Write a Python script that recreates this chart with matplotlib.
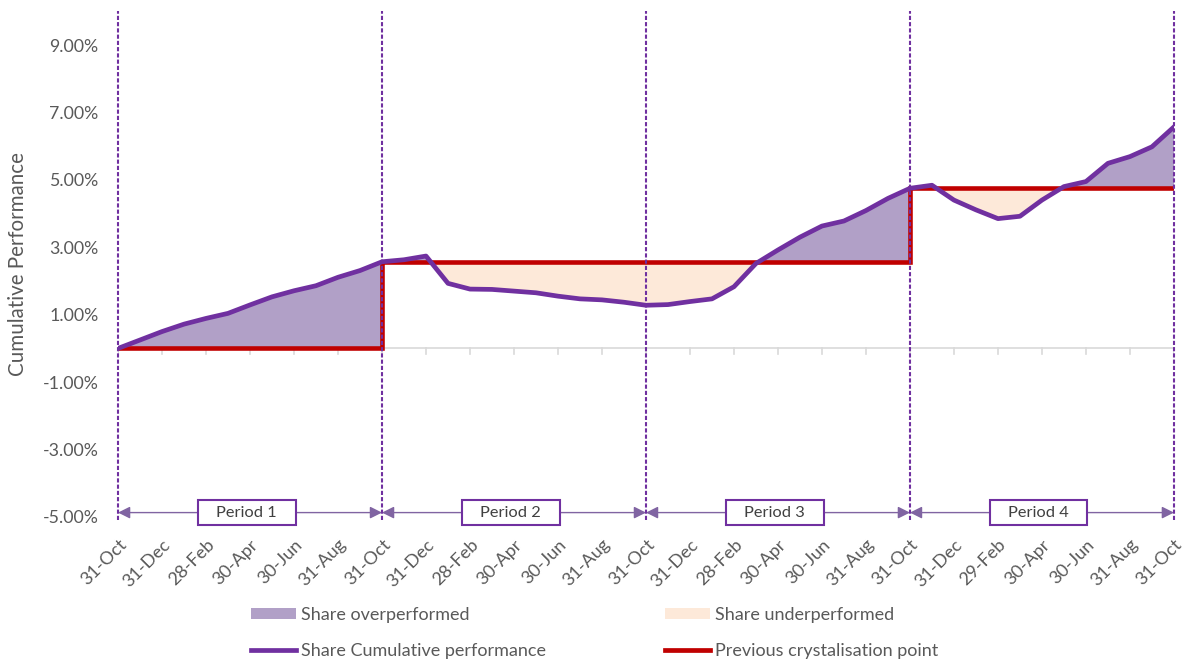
import matplotlib
matplotlib.use("Agg")
import matplotlib.pyplot as plt
from matplotlib.lines import Line2D
from matplotlib.patches import Patch, Rectangle
import numpy as np

plt.rcParams['font.family'] = ['Lato', 'DejaVu Sans']

# ---------------- data ----------------
months = list(range(49))  # month-end index, 4 periods x 12 months
cum_perf = [0.00, 0.25, 0.50, 0.72, 0.89, 1.04, 1.29, 1.53, 1.71, 1.86, 2.11, 2.31, 2.57,
            2.63, 2.74, 1.93, 1.76, 1.75, 1.70, 1.65, 1.55, 1.47, 1.44, 1.37, 1.28,
            1.30, 1.39, 1.47, 1.83, 2.52, 2.92, 3.30, 3.63, 3.78, 4.09, 4.45, 4.75,
            4.84, 4.40, 4.11, 3.85, 3.92, 4.40, 4.80, 4.95, 5.49, 5.69, 5.98, 6.57]
period_bounds = [0, 12, 24, 36, 48]
period_names = ["Period 1", "Period 2", "Period 3", "Period 4"]
crystallisation = [0.0, 2.57, 2.57, 4.75]
tick_pos = list(range(0, 49, 2))
tick_labels = ["31-Oct", "31-Dec", "28-Feb", "30-Apr", "30-Jun", "31-Aug",
               "31-Oct", "31-Dec", "28-Feb", "30-Apr", "30-Jun", "31-Aug",
               "31-Oct", "31-Dec", "28-Feb", "30-Apr", "30-Jun", "31-Aug",
               "31-Oct", "31-Dec", "29-Feb", "30-Apr", "30-Jun", "31-Aug",
               "31-Oct"]
y_ticks = [-5, -3, -1, 1, 3, 5, 7, 9]

# ---------------- style ----------------
c_line = "#7030A0"
c_over = "#B1A0C7"
c_under = "#FDE9D9"
c_red = "#C00000"
c_arrow = "#8064A2"
c_text = "#595959"

fig = plt.figure(figsize=(11.84, 6.61), dpi=100)
ax = fig.add_axes([0.0997, 0.2179, 0.8918, 0.7650])

x = np.array(months, dtype=float)
y = np.array(cum_perf)

# fills per period
for p in range(4):
    a, b = period_bounds[p], period_bounds[p + 1]
    xs, ys = x[a:b + 1], y[a:b + 1]
    lvl = np.full_like(ys, crystallisation[p])
    ax.fill_between(xs, ys, lvl, where=ys >= lvl, interpolate=True,
                    color=c_over, lw=0, zorder=1)
    ax.fill_between(xs, ys, lvl, where=ys <= lvl, interpolate=True,
                    color=c_under, lw=0, zorder=1)

# zero axis line with tick marks
ax.axhline(0, color="#D9D9D9", lw=1.2, zorder=0.5)
for t in tick_pos:
    ax.plot([t, t], [0, -0.16], color="#D9D9D9", lw=1.2, zorder=0.5)

# crystallisation step line
rx, ry = [], []
for p in range(4):
    rx += [period_bounds[p], period_bounds[p + 1]]
    ry += [crystallisation[p], crystallisation[p]]
ax.plot(rx, ry, color=c_red, lw=3.3, zorder=3, solid_joinstyle='miter')

# cumulative performance line
ax.plot(x, y, color=c_line, lw=3.4, zorder=4, solid_joinstyle='round')

# vertical dashed period boundaries
for bnd in period_bounds:
    ax.plot([bnd, bnd], [-5.1, 10], color=c_line, lw=1.5,
            linestyle=(0, (2, 1)), zorder=5, clip_on=False)

# period arrows + labels
arrow_y = -4.87
for p in range(4):
    a, b = period_bounds[p], period_bounds[p + 1]
    ax.annotate("", xy=(b, arrow_y), xytext=(a, arrow_y),
                arrowprops=dict(arrowstyle='<|-|>', color=c_arrow, lw=1.0,
                                mutation_scale=18, shrinkA=0, shrinkB=0),
                zorder=6, annotation_clip=False)
    cx = (a + b) / 2 - 0.15
    ax.add_patch(Rectangle((cx - 2.22, arrow_y - 0.37), 4.44, 0.74,
                           facecolor="white", edgecolor=c_line, lw=1.5, zorder=7,
                           clip_on=False))
    ax.text(cx, arrow_y, period_names[p], ha='center', va='center',
            fontsize=11.8, color="#404040", zorder=8)

ax.set_xlim(0, 48)
ax.set_ylim(-5, 10)
ax.set_yticks(y_ticks)
ax.set_yticklabels([f"{v:.2f}%" for v in y_ticks], fontsize=12.8, color=c_text)
ax.set_xticks(tick_pos)
ax.set_xticklabels(tick_labels, rotation=45, ha='right', va='top',
                   rotation_mode='anchor', fontsize=13, color=c_text)
ax.tick_params(axis='both', length=0)
ax.tick_params(axis='x', pad=14)
ax.tick_params(axis='y', pad=14)
for s in ax.spines.values():
    s.set_visible(False)
ax.set_ylabel("Cumulative Performance", fontsize=14.8, color=c_text)
ax.yaxis.set_label_coords(-0.085, 0.5)

handles = [Patch(facecolor=c_over, edgecolor='none'),
           Line2D([0], [0], color=c_line, lw=3.4),
           Patch(facecolor=c_under, edgecolor='none'),
           Line2D([0], [0], color=c_red, lw=3.4)]
labels = ["Share overperformed", "Share Cumulative performance",
          "Share underperformed", "Previous crystalisation point"]
fig.legend(handles, labels, ncol=2, loc='lower left',
           bbox_to_anchor=(0.1983, -0.022), frameon=False, fontsize=13,
           labelcolor=c_text, handlelength=2.5, handleheight=0.55,
           handletextpad=0.25, columnspacing=6.6, labelspacing=1.14)

fig.savefig("out.png", dpi=100)
